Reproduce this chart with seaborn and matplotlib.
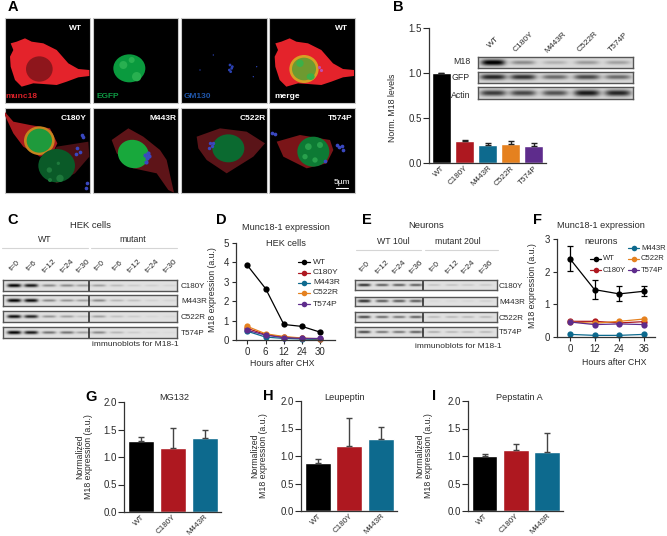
import numpy as np
import pandas as pd
import seaborn as sns
import matplotlib
matplotlib.use("Agg")
import matplotlib.pyplot as plt
from matplotlib.patches import Ellipse, Polygon, Rectangle

W, H = 667, 536

# panel B
mutants = ['WT', 'C180Y', 'M443R', 'C522R', 'T574P']
b_levels = [1.0, 0.24, 0.195, 0.21, 0.19]
b_err = [0, 0.02, 0.03, 0.04, 0.035]
b_m18 = [1.0, 0.35, 0.18, 0.28, 0.25]
b_gfp = [0.8, 0.75, 0.5, 0.65, 0.5]
b_actin = [0.7, 0.65, 0.6, 0.85, 0.8]

# panel C blots
c_labels = ['t=0', 't=6', 't=12', 't=24', 't=30'] * 2
c_c180y = [1, 0.9, 0.4, 0.4, 0.3, 0.3, 0.18, 0.1, 0.08, 0.06]
c_m443r = [1, 0.95, 0.4, 0.35, 0.3, 0.4, 0.2, 0.15, 0.07, 0.06]
c_c522r = [0.95, 0.85, 0.35, 0.3, 0.15, 0.3, 0.15, 0.1, 0.05, 0.04]
c_t574p = [1, 0.9, 0.5, 0.5, 0.3, 0.4, 0.2, 0.1, 0.05, 0.03]

# panel D
d_hours = ['0', '6', '12', '24', '30']
d_wt = [3.85, 2.65, 0.8, 0.7, 0.4]
d_c180y = [0.6, 0.28, 0.15, 0.08, 0.05]
d_m443r = [0.45, 0.15, 0.08, 0.05, 0.03]
d_c522r = [0.7, 0.32, 0.18, 0.1, 0.06]
d_t574p = [0.5, 0.25, 0.12, 0.08, 0.08]

# panel E blots
e_labels = ['t=0', 't=12', 't=24', 't=36'] * 2
e_c180y = [0.8, 0.6, 0.6, 0.6, 0.15, 0.15, 0.12, 0.12]
e_m443r = [0.8, 0.6, 0.6, 0.6, 0.04, 0.04, 0.05, 0.08]
e_c522r = [0.7, 0.55, 0.5, 0.6, 0.2, 0.2, 0.2, 0.2]
e_t574p = [0.7, 0.5, 0.5, 0.6, 0.25, 0.2, 0.2, 0.2]

# panel F
f_hours = ['0', '12', '24', '36']
f_wt = [2.4, 1.45, 1.32, 1.4]
f_wt_err = [0.38, 0.28, 0.23, 0.15]
f_c180y = [0.48, 0.48, 0.43, 0.47]
f_m443r = [0.08, 0.05, 0.05, 0.08]
f_c522r = [0.46, 0.42, 0.48, 0.55]
f_t574p = [0.46, 0.38, 0.40, 0.38]

# panels G, H, I
three = ['WT', 'C180Y', 'M443R']
g_vals = [1.29, 1.17, 1.35]
g_tops = [1.37, 1.53, 1.50]
h_vals = [0.87, 1.19, 1.31]
h_tops = [0.95, 1.70, 1.53]
i_vals = [1.0, 1.11, 1.07]
i_tops = [1.04, 1.21, 1.41]

colors = {'WT': '#000000', 'C180Y': '#AE1820', 'M443R': '#0D6A8E',
          'C522R': '#E5811F', 'T574P': '#5E2C8C'}
TXT = '#2a2a2a'

sns.set_theme(style='ticks')
plt.rcParams['font.family'] = ['Liberation Sans', 'DejaVu Sans']
plt.rcParams['axes.edgecolor'] = '#333333'
plt.rcParams['axes.linewidth'] = 0.9
plt.rcParams['xtick.color'] = TXT
plt.rcParams['ytick.color'] = TXT
plt.rcParams['axes.labelcolor'] = TXT

fig = plt.figure(figsize=(W / 100, H / 100), dpi=100)


def px_axes(x0, y0, x1, y1):
    return fig.add_axes([x0 / W, 1 - y1 / H, (x1 - x0) / W, (y1 - y0) / H])


# overlay in pixel coordinates for labels and micrographs
ov = fig.add_axes([0, 0, 1, 1], zorder=5)
ov.set_xlim(0, W)
ov.set_ylim(H, 0)
ov.axis('off')
ov.patch.set_alpha(0)


def label(x, y, s, size=6.3, **kw):
    kw.setdefault('color', TXT)
    kw.setdefault('ha', 'center')
    kw.setdefault('va', 'center')
    ov.text(x, y, s, fontsize=size, **kw)


def bar_panel(box, names, vals, err, ylabel, ylab_dx, ylab_y=0.5, ylim=2.0, ticks=None, errcolor='#444444'):
    ax = px_axes(*box)
    df = pd.DataFrame({'name': names, 'val': vals})
    sns.barplot(data=df, x='name', y='val', hue='name', palette=colors, width=0.82, saturation=1,
                legend=False, errorbar=None, ax=ax)
    ax.errorbar(range(len(names)), vals, yerr=[np.zeros(len(err)), err], fmt='none',
                ecolor=errcolor, elinewidth=1, capsize=2.5, capthick=1)
    ax.set_xlim(-0.54, len(names) - 1 + 0.52)
    ax.set_ylim(0, ylim)
    ax.set_yticks(ticks)
    ax.set_yticklabels([f'{t:.1f}' for t in ticks], fontsize=7)
    ax.tick_params(axis='y', length=4, width=0.8, pad=1)
    ax.tick_params(axis='x', length=0, pad=1)
    ax.set_xticks(range(len(names)))
    ax.set_xticklabels(names, rotation=45, ha='right', rotation_mode='anchor', fontsize=5.8)
    ax.set_xlabel('')
    ax.set_ylabel(ylabel, fontsize=6.3, linespacing=0.9)
    ax.yaxis.set_label_coords(-ylab_dx / (box[2] - box[0]), ylab_y)
    sns.despine(ax=ax)
    return ax


def line_panel(box, hours, series, ylim, ticks, xlab_pos, ylab_dx):
    ax = px_axes(*box)
    rows = []
    for name, vals in series.items():
        for h, v in zip(hours, vals):
            rows.append({'hours': h, 'value': v, 'name': name})
    df = pd.DataFrame(rows)
    sns.lineplot(data=df, x='hours', y='value', hue='name', palette=colors, marker='o',
                 markersize=4.5, markeredgewidth=0, linewidth=0.9, sort=False,
                 legend=False, errorbar=None, ax=ax)
    ax.set_ylim(0, ylim)
    ax.set_yticks(ticks)
    ax.tick_params(axis='both', length=3, width=0.8, pad=2, labelsize=7)
    ax.set_xlabel('Hours after CHX', fontsize=6.3)
    ax.set_ylabel('M18 expression (a.u.)', fontsize=6.3)
    ax.xaxis.set_label_coords((xlab_pos[0] - box[0]) / (box[2] - box[0]),
                              -(xlab_pos[1] - 4 - box[3]) / (box[3] - box[1]))
    ax.yaxis.set_label_coords(-ylab_dx / (box[2] - box[0]), 0.52)
    for line in ax.get_lines():
        line.set_clip_on(False)
    sns.despine(ax=ax)
    return ax


def blot(box, bands, lanes, band_w=9, band_h=1.7, divider=None, back=0.88):
    # one strip: bands drawn as soft dark smears on a grey membrane
    x0, y0, x1, y1 = box
    ax = px_axes(x0, y0, x1, y1)
    xs = np.linspace(x0, x1, int((x1 - x0) * 2))
    ys = np.linspace(y0, y1, int((y1 - y0) * 2))
    xx, yy = np.meshgrid(xs, ys)
    img = np.full(xx.shape, back)
    mid = (y0 + y1) / 2
    for lane, b in zip(lanes, bands):
        img -= 0.9 * b * np.exp(-((xx - lane) / band_w) ** 4) * np.exp(-((yy - mid) / (band_h * (0.6 + 0.6 * b))) ** 2)
    ax.imshow(np.clip(img, 0, 1), cmap='gray', vmin=0, vmax=1, aspect='auto',
              extent=(x0, x1, y1, y0), interpolation='bilinear')
    if divider is not None:
        ax.axvline(divider, color='#222222', lw=1.1)
    ax.set_xticks([])
    ax.set_yticks([])
    for s in ax.spines.values():
        s.set_color('#555555')
        s.set_linewidth(1.0)
    return ax


# ---- A: micrographs ----
panels_x = [14, 279, 544, 808]
panels_y = [53, 323]


def poly(pts, color, clip):
    p = Polygon(np.array(pts) / 3, closed=True, fc=color, ec='none', zorder=2, joinstyle='round')
    ov.add_patch(p)
    p.set_clip_path(clip)


def ell(cx, cy, rx, ry, color, clip, angle=0, z=3):
    e = Ellipse((cx / 3, cy / 3), 2 * rx / 3, 2 * ry / 3, angle=angle, fc=color, ec='none', zorder=z)
    ov.add_patch(e)
    e.set_clip_path(clip)


clips = {}
for r, py in enumerate(panels_y):
    for c, px in enumerate(panels_x):
        rect = Rectangle((px / 3, py / 3), 85.3, 85, fc='black', ec='#c8c8c8', lw=0.8, zorder=1)
        ov.add_patch(rect)
        clips[(r, c)] = rect

wt_cell = [(50, 125), (75, 115), (95, 125), (130, 130), (170, 150), (205, 190), (235, 207), (268, 210), (268, 228),
           (235, 232), (200, 245), (170, 255), (130, 252), (100, 250), (65, 260), (45, 240), (32, 200), (30, 170),
           (40, 150), (32, 130)]
poly(wt_cell, '#E4232B', clips[(0, 0)])
ell(118, 207, 40, 38, '#8E161C', clips[(0, 0)])

ell(388, 205, 48, 42, '#0A9A3E', clips[(0, 1)])
for cx, cy, r in [(370, 195, 12), (410, 230, 14), (395, 180, 9)]:
    ell(cx, cy, r, r, '#28B050', clips[(0, 1)], z=4)

poly([(x + 794, y) for x, y in wt_cell], '#E4232B', clips[(0, 3)])
ell(912, 207, 44, 42, '#D8A024', clips[(0, 3)])
ell(912, 207, 36, 34, '#6E9A30', clips[(0, 3)], z=4)
ell(900, 190, 11, 11, '#3CB048', clips[(0, 3)], z=5)
ell(932, 230, 12, 10, '#3CB048', clips[(0, 3)], z=5)
ov.scatter([958 / 3, 962 / 3], [200 / 3, 210 / 3], s=5, c='#C050B0', lw=0, zorder=6)

ov.scatter(np.array([690, 695, 688, 697, 692, 640, 600, 760, 770]) / 3,
           np.array([195, 205, 210, 200, 215, 165, 210, 230, 200]) / 3,
           s=[4, 4, 4, 4, 4, 1, 1, 1, 1], c='#2A40B0', lw=0, zorder=3)

# lower row
poly([(14, 335), (40, 365), (90, 375), (150, 385), (172, 430), (160, 455), (120, 470), (70, 440),
      (40, 400), (14, 345)], '#A81A1E', clips[(1, 0)])
poly([(170, 440), (265, 425), (268, 470), (225, 520), (170, 550), (125, 510)], '#4A1014', clips[(1, 0)])
ell(118, 422, 46, 43, '#C6841E', clips[(1, 0)])
ell(118, 422, 38, 36, '#1F9A3C', clips[(1, 0)], z=4)
ell(170, 497, 55, 50, '#0A5A28', clips[(1, 0)])
for cx, cy, r in [(148, 510, 8), (180, 535, 11), (150, 540, 6), (175, 490, 5)]:
    ell(cx, cy, r, r, '#1E7A3C', clips[(1, 0)], z=4)
ov.scatter(np.array([232, 240, 228, 245, 250, 262, 258]) / 3,
           np.array([445, 455, 462, 405, 412, 550, 565]) / 3, s=7, c='#3A48C0', lw=0, zorder=5)

poly([(335, 420), (385, 385), (430, 410), (480, 450), (500, 480), (522, 578), (505, 570), (470, 520),
      (400, 505), (350, 460)], '#5E1418', clips[(1, 1)])
ell(400, 462, 47, 42, '#18A83C', clips[(1, 1)], angle=20)
ov.scatter(np.array([435, 442, 448, 438, 445]) / 3, np.array([465, 475, 468, 485, 460]) / 3,
           s=9, c='#3A48C0', lw=0, zorder=5)

poly([(590, 410), (660, 385), (740, 395), (795, 430), (760, 470), (680, 520), (620, 480), (595, 445)],
     '#5A1418', clips[(1, 2)])
ell(685, 445, 48, 42, '#0B6A30', clips[(1, 2)])
ov.scatter(np.array([630, 635, 628, 638]) / 3, np.array([428, 438, 445, 430]) / 3, s=6, c='#3A48C0', lw=0, zorder=5)

poly([(830, 425), (900, 405), (990, 420), (1000, 450), (980, 490), (920, 505), (850, 470)],
     '#7A1518', clips[(1, 3)])
ell(940, 455, 48, 45, '#0D7A34', clips[(1, 3)])
for cx, cy, r in [(925, 440, 10), (960, 435, 9), (945, 480, 8), (915, 470, 8)]:
    ell(cx, cy, r, r, '#28A04C', clips[(1, 3)], z=4)
ov.scatter(np.array([1010, 1018, 1025, 1030, 815, 825, 975]) / 3,
           np.array([435, 442, 438, 450, 400, 403, 483]) / 3, s=7, c='#3A48C0', lw=0, zorder=5)
ov.plot([1008 / 3, 1045 / 3], [565 / 3, 565 / 3], color='white', lw=0.8, zorder=6)

for x, y, s, col in [(225, 85, 'WT', 'white'), (1025, 85, 'WT', 'white'), (63, 290, 'munc18', '#D62028'),
                     (322, 290, 'EGFP', '#0E9A44'), (593, 290, 'GM130', '#1F55A8'), (862, 290, 'merge', 'white'),
                     (220, 355, 'C180Y', 'white'), (488, 355, 'M443R', 'white'),
                     (757, 355, 'C522R', 'white'), (1020, 355, 'T574P', 'white')]:
    label(x / 3, y / 3, s, size=6, color=col, zorder=7, fontweight='bold')
label(1025 / 3, 548 / 3, '5µm', size=6, color='white', zorder=7)

# ---- B ----
bar_panel((429, 28, 546, 163), mutants, b_levels, b_err, 'Norm. M18 levels', 32, ylab_y=0.41, ylim=1.5,
          ticks=[0.0, 0.5, 1.0, 1.5], errcolor='#222222')
b_lanes = [493, 523, 555, 587, 618]
blot((478, 57, 633, 68), b_m18, b_lanes, band_w=12, band_h=2.6, back=0.85)
blot((478, 72, 633, 83), b_gfp, b_lanes, band_w=13, band_h=2.4, back=0.85)
blot((478, 87, 633, 99), b_actin, b_lanes, band_w=13, band_h=3.0, back=0.85)
for y, s in [(62, 'M18'), (78, 'GFP'), (95, 'Actin')]:
    label(470, y, s, ha='right')
for x, s in zip(b_lanes, mutants):
    label(x + 1, 42, s, size=6, rotation=45)

# ---- C ----
c_lanes = [14, 31, 49, 67, 83, 99, 117, 134, 152, 170]
c_strips = [((3, 280, 177, 291), c_c180y, 'C180Y'), ((3, 295, 177, 306), c_m443r, 'M443R'),
            ((3, 311, 177, 322), c_c522r, 'C522R'), ((3, 327, 177, 338), c_t574p, 'T574P')]
for box, bands, name in c_strips:
    blot(box, bands, c_lanes, band_w=7, band_h=1.5, divider=89)
    label(181, (box[1] + box[3]) / 2 + 1, name, ha='left', size=5.8)
for x, s in zip(c_lanes, c_labels):
    label(x + 1, 266, s, size=6, rotation=45)
label(90, 226, 'HEK cells', size=6.8)
label(45, 239, 'WT')
label(133, 239, 'mutant')
ov.plot([2, 88], [248, 248], color='#d5d5d5', lw=0.8)
ov.plot([91, 177], [248, 248], color='#d5d5d5', lw=0.8)
label(135, 344, 'immunoblots for M18-1', size=6)

# ---- D ----
d_series = {'WT': d_wt, 'C180Y': d_c180y, 'M443R': d_m443r, 'C522R': d_c522r, 'T574P': d_t574p}
ax_d = line_panel((236, 243, 335, 340), d_hours, d_series, 5, [0, 1, 2, 3, 4, 5], (282, 363), 19)
ax_d.set_xlim(-0.62, 4.8)
label(286, 228, 'Munc18-1 expression', size=6.6)
label(286, 243, 'HEK cells', size=6.6)
for y, s in zip([262, 273, 283, 293, 304], mutants):
    ov.plot([298, 310], [y, y], color=colors[s], lw=0.9, zorder=6)
    ov.plot([304], [y], color=colors[s], marker='o', ms=4, mew=0, zorder=6)
    label(313, y, s, ha='left', size=6)

# ---- E ----
e_lanes = [364, 382, 399, 416, 434, 452, 468, 486]
e_strips = [((355, 280, 497, 290), e_c180y, 'C180Y'), ((355, 297, 497, 306), e_m443r, 'M443R'),
            ((355, 312, 497, 322), e_c522r, 'C522R'), ((355, 327, 497, 337), e_t574p, 'T574P')]
for box, bands, name in e_strips:
    blot(box, bands, e_lanes, band_w=6.5, band_h=1.3, divider=423)
    label(499, (box[1] + box[3]) / 2 + 1, name, ha='left', size=5.8)
for x, s in zip(e_lanes, e_labels):
    label(x + 1, 267, s, size=6, rotation=45)
label(426, 226, 'Neurons', size=6.8)
label(393, 242, 'WT 10ul')
label(458, 242, 'mutant 20ul')
ov.plot([356, 421], [250, 250], color='#d5d5d5', lw=0.8)
ov.plot([425, 498], [250, 250], color='#d5d5d5', lw=0.8)
label(458, 346, 'immunoblots for M18-1', size=6)

# ---- F ----
f_series = {'WT': f_wt, 'C180Y': f_c180y, 'M443R': f_m443r, 'C522R': f_c522r, 'T574P': f_t574p}
ax_f = line_panel((557, 239, 655, 337), f_hours, f_series, 3, [0, 1, 2, 3], (614, 362), 20)
ax_f.set_xlim(-0.52, 3.45)
ax_f.errorbar(range(4), f_wt, yerr=f_wt_err, fmt='none', ecolor='black', elinewidth=0.9, capsize=2, capthick=0.9)
label(601, 226, 'Munc18-1 expression', size=6.6)
label(601, 242, 'neurons', size=6.6)
for x0, y, s in [(590, 259, 'WT'), (590, 270, 'C180Y'), (628, 248, 'M443R'), (628, 259, 'C522R'), (628, 270, 'T574P')]:
    ov.plot([x0, x0 + 11], [y, y], color=colors[s], lw=0.9, zorder=6)
    ov.plot([x0 + 5.5], [y], color=colors[s], marker='o', ms=4, mew=0, zorder=6)
    label(x0 + 13, y, s, ha='left', size=5.5)

# ---- G, H, I ----
ylab = 'Normalized\nM18 expression (a.u.)'
t3 = [0.0, 0.5, 1.0, 1.5, 2.0]
for box, vals, tops, title, tx, dx in [((124, 402, 221, 512), g_vals, g_tops, 'MG132', 174, 31),
                                       ((301, 401, 397, 511), h_vals, h_tops, 'Leupeptin', 345, 33),
                                       ((468, 401, 563, 511), i_vals, i_tops, 'Pepstatin A', 519, 35)]:
    bar_panel(box, three, vals, np.array(tops) - np.array(vals), ylab, dx, ticks=t3)
    label(tx, 397, title, size=6.6)

for x, y, s in [(13, 7, 'A'), (398, 7, 'B'), (13, 220, 'C'), (221, 220, 'D'), (367, 220, 'E'),
                (537, 220, 'F'), (91, 397, 'G'), (268, 396, 'H'), (434, 396, 'I')]:
    ov.text(x, y, s, fontsize=10.5, fontweight='bold', color='black', ha='center', va='center')

fig.savefig('out.png', dpi=100, facecolor='white')
